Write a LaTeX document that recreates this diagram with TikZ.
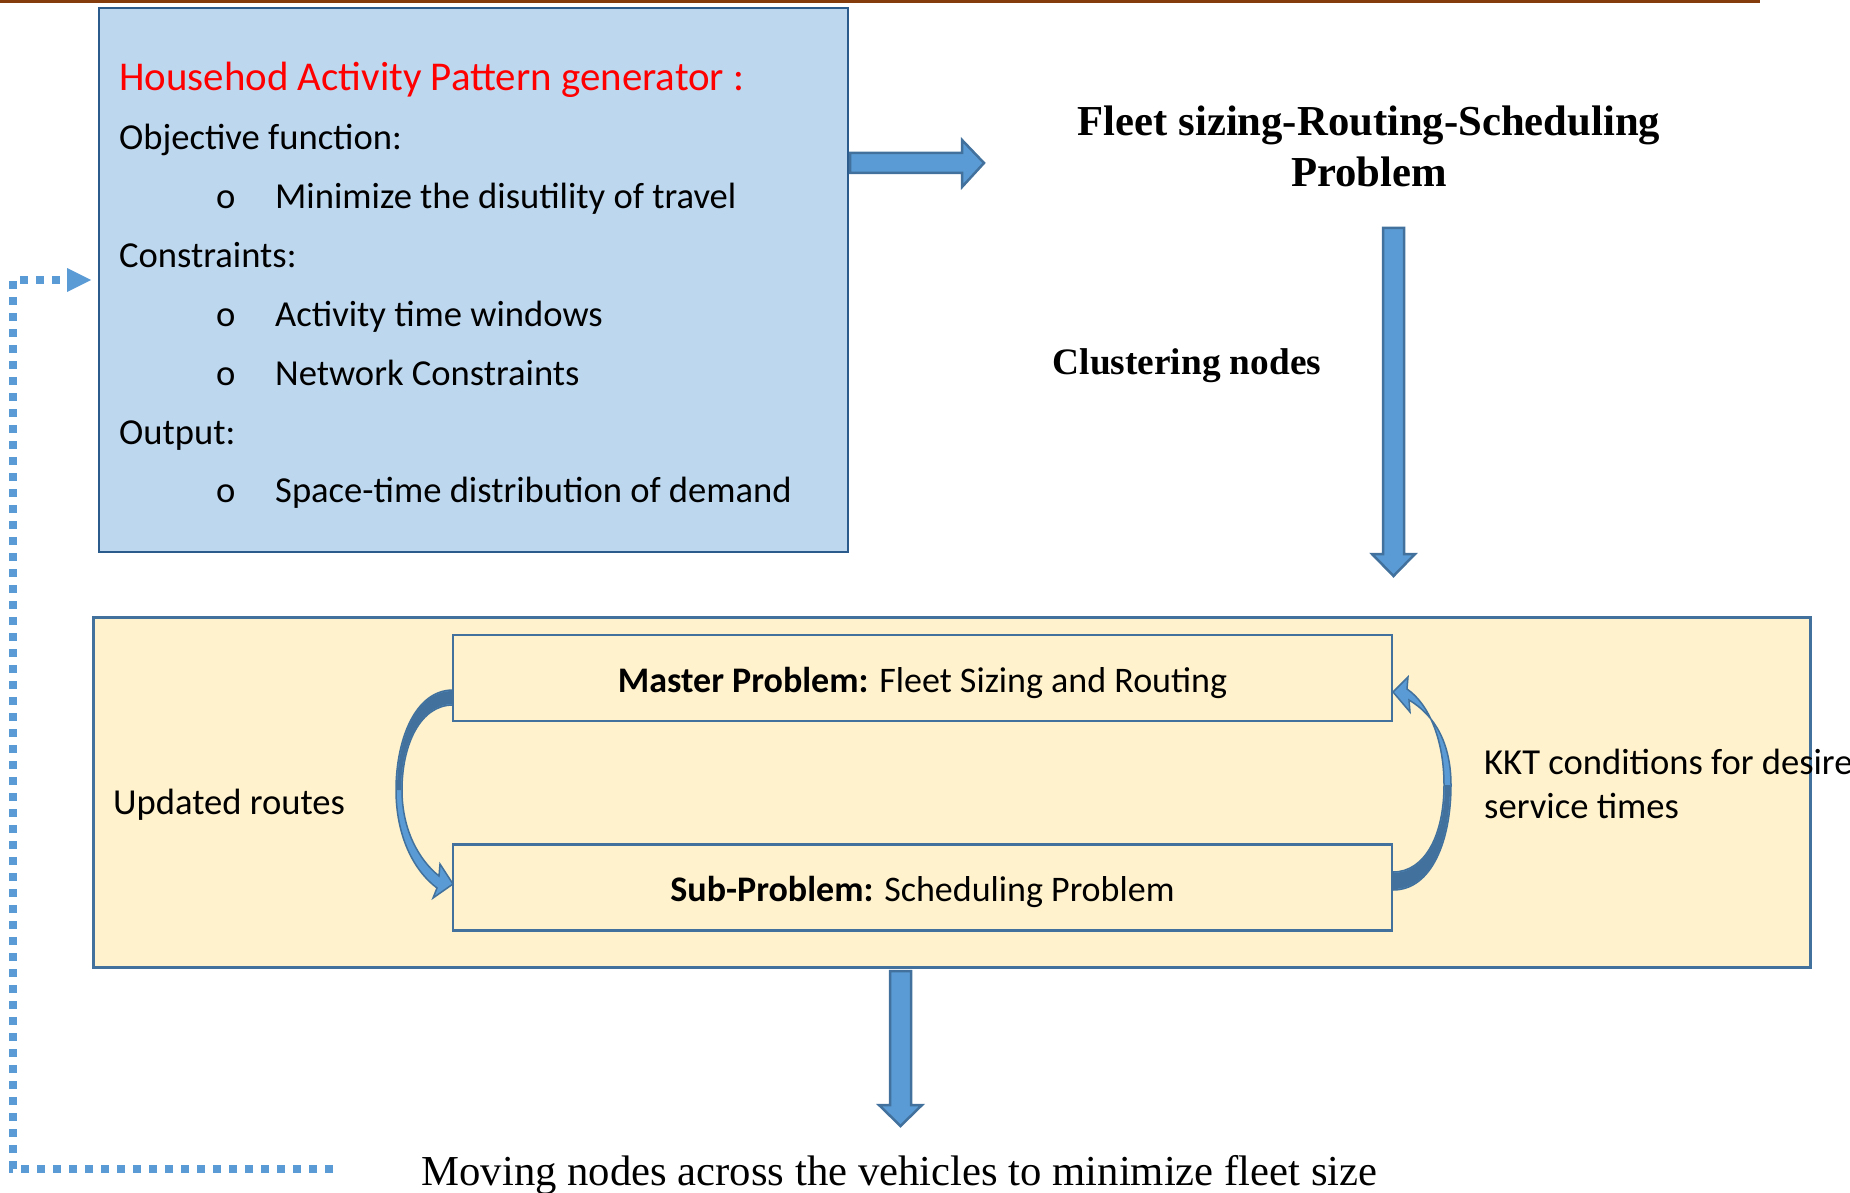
\documentclass[tikz,border=0pt]{standalone}
\usepackage{fontspec}
\setmainfont{Carlito}
\newfontfamily\tnr{Liberation Serif}
\definecolor{topline}{HTML}{843C0C}
\definecolor{bluefill}{HTML}{BDD7EE}
\definecolor{blueedge}{HTML}{2B5B8C}
\definecolor{yelfill}{HTML}{FFF2CC}
\definecolor{yeledge}{HTML}{41719C}
\definecolor{arrfill}{HTML}{5B9BD5}
\definecolor{arredge}{HTML}{41719C}
\definecolor{redtxt}{HTML}{FF0000}
\begin{document}
\begin{tikzpicture}[x=1pt,y=-1pt,
  bodytxt/.style={font=\fontsize{36.6}{44}\selectfont, inner sep=0pt, anchor=west, text height=26pt, text depth=9pt},
  bullettxt/.style={bodytxt},
  headtxt/.style={font=\tnr\bfseries\fontsize{42.7}{51}\selectfont, align=center, inner sep=0pt},
  blockarrow/.style={fill=arrfill, draw=arredge, line width=2.5pt, line join=miter},
  curvearrow/.style={fill=arrfill, draw=arredge, line width=1.5pt, line join=miter},
  curveback/.style={fill=arredge},
  probbox/.style={draw=yeledge, fill=yelfill, line width=2.5pt, minimum width=939pt, minimum height=86pt, inner sep=0pt},
  probtxt/.style={font=\fontsize{36}{44}\selectfont, inner sep=0pt}
]
\useasboundingbox (0,0) rectangle (1850,1193);
\clip (0,0) rectangle (1850,1193);

% top rule
\fill[topline] (0,0) rectangle (1760,3);

% blue box
\node[draw=blueedge, fill=bluefill, line width=2.5pt, minimum width=749pt, minimum height=544pt, inner sep=0pt] (hap) at (473.5,280) {};
\node[bodytxt, font=\fontsize{40.9}{49}\selectfont, text=redtxt] (title) at (119,82) {Househod Activity Pattern generator :};
\node[bodytxt] (obj) at (119,141) {Objective function:};
\node[bullettxt] (b1) at (216,200) {o};
\node[bodytxt] (t1) at (275,200) {Minimize the disutility of travel};
\node[bodytxt] (con) at (119,259) {Constraints:};
\node[bullettxt] (b2) at (216,318) {o};
\node[bodytxt] (t2) at (275,318) {Activity time windows};
\node[bullettxt] (b3) at (216,377) {o};
\node[bodytxt] (t3) at (275,377) {Network Constraints};
\node[bodytxt] (out) at (119,436) {Output:};
\node[bullettxt] (b4) at (216,494) {o};
\node[bodytxt] (t4) at (275,494) {Space-time distribution of demand};

% heading right
\node[headtxt] (fleet) at (1369,146) {Fleet sizing-Routing-Scheduling\\Problem};
\node[headtxt, font=\tnr\bfseries\fontsize{37.3}{45}\selectfont] (clus) at (1187,366) {Clustering nodes};

% right block arrow from blue box
\draw[blockarrow] (850,153) -- (962,153) -- (962,140) -- (984,163) -- (962,187) -- (962,173) -- (850,173) -- cycle;

% vertical arrow down to yellow box
\draw[blockarrow] (1383,228) -- (1404,228) -- (1404,554) -- (1415,554) -- (1393.5,576) -- (1372,554) -- (1383,554) -- cycle;

% yellow box
\node[draw=yeledge, fill=yelfill, line width=3pt, minimum width=1717pt, minimum height=350pt, inner sep=0pt] (opt) at (951.5,792) {};
\node[probbox] (master) at (922.5,678) {};
\node[probtxt] (mastertxt) at (922.5,683) {\textbf{Master Problem:} Fleet Sizing and Routing};
\node[probbox] (sub) at (922.5,887.5) {};
\node[probtxt] (subtxt) at (922.5,891.5) {\textbf{Sub-Problem:} Scheduling Problem};
\node[bodytxt] (upd) at (113,806) {Updated routes};
\node[bodytxt, align=left, text height=, text depth=, anchor=west] (kkt) at (1484,784) {KKT conditions for desired\\service times};

% left curved arrow (master -> sub)
\path[curvearrow] (453,690) .. controls (415,690) and (396,740) .. (396,790)
  .. controls (396,835) and (413,870) .. (437,888)
  -- (433,898) -- (453,884) -- (440,864) -- (439,876)
  .. controls (419,860) and (402,830) .. (402,790)
  .. controls (402,745) and (420,705) .. (453,705) -- cycle;
\path[curveback] (453,691) .. controls (415,691) and (397,740) .. (397,790)
  -- (401,790) .. controls (401,745) and (420,704) .. (453,704) -- cycle;

% right curved arrow (sub -> master)
\path[curvearrow] (1393,890) .. controls (1432,890) and (1451,840) .. (1451,785)
  .. controls (1451,745) and (1436,716) .. (1409,700)
  -- (1410,712) -- (1393,692) -- (1408,677) -- (1407,689)
  .. controls (1429,704) and (1444,740) .. (1444,785)
  .. controls (1444,835) and (1425,872) .. (1393,872) -- cycle;
\path[curveback] (1393,889) .. controls (1432,889) and (1450,840) .. (1450,785)
  -- (1445,785) .. controls (1445,835) and (1425,873) .. (1393,873) -- cycle;

% bottom arrow
\draw[blockarrow] (890,971) -- (911,971) -- (911,1105) -- (922,1105) -- (900.5,1126) -- (879,1105) -- (890,1105) -- cycle;
\node[inner sep=0pt, font=\tnr\fontsize{42.7}{51}\selectfont] (move) at (899.5,1175) {Moving nodes across the vehicles to minimize fleet size};

% dotted feedback line
\coordinate (fbstart) at (333,1169);
\coordinate (fbcorner1) at (13,1169);
\coordinate (fbcorner2) at (13,280);
\coordinate (fbend) at (67,280);
\draw[arrfill, line width=8pt, dash pattern=on 8pt off 8pt] (fbstart) -- (fbcorner1) -- (fbcorner2) -- (fbend);
\fill[arrfill] (67,268) -- (91,280) -- (67,292) -- cycle;
\end{tikzpicture}
\end{document}
